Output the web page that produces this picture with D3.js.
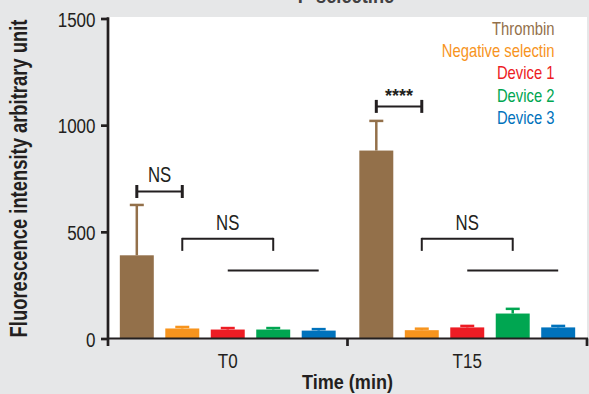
<!DOCTYPE html>
<html>
<head>
<meta charset="utf-8">
<script src="https://cdn.jsdelivr.net/npm/d3@7"></script>
<style>
  html, body { margin: 0; padding: 0; background: #e6e7e8; }
  svg { display: block; }
  text { font-family: "Liberation Sans", Arial, Helvetica, sans-serif; }
</style>
</head>
<body>
<svg id="chart" width="589" height="394"></svg>
<script>
// Time points and treatment series
const timePoints = ["T0", "T15"];
const seriesNames = ["Thrombin", "Negative selectin", "Device 1", "Device 2", "Device 3"];
const seriesColors = ["#93704a", "#f7941d", "#ed1c24", "#00a651", "#0072bc"];

// Mean fluorescence per series, one array per time point
const meanT0  = [390, 47, 42, 42, 37];
const meanT15 = [881, 39, 52, 117, 52];
// Upper end of the error bar (mean + SD)
const upperT0  = [626, 54, 49, 49, 44];
const upperT15 = [1020, 46, 59, 139, 59];

const yTicks = [0, 500, 1000, 1500];

// Significance annotations: time point, from/to series index, level (data units)
const sigGroup = ["T0", "T0", "T0", "T15", "T15", "T15"];
const sigFrom  = [0, 1, 2, 0, 1, 2];
const sigTo    = [1, 3, 4, 1, 3, 4];
const sigLevel = [689, 467, 319, 1088, 467, 319];
const sigKind  = ["capped", "bracket", "line", "capped", "bracket", "line"];
const sigLabel = ["NS", "NS", "", "****", "NS", ""];

const meansByTime = { T0: meanT0, T15: meanT15 };
const upperByTime = { T0: upperT0, T15: upperT15 };

const svg = d3.select("#chart");
const plot = { left: 108, right: 587, top: 17, bottom: 338.5 };
const ink = "#231f20";
const K = 0.81; // horizontal squeeze for the condensed type

// plotting area background
svg.append("rect")
  .attr("x", plot.left).attr("y", plot.top)
  .attr("width", plot.right - plot.left).attr("height", plot.bottom - plot.top)
  .attr("fill", "#ffffff");

const y = d3.scaleLinear().domain([0, 1500]).range([plot.bottom, 18.5]);
const x0 = d3.scaleBand().domain(timePoints).range([plot.left, plot.right]).padding(0);
const x1 = d3.scaleBand().domain(d3.range(seriesNames.length))
  .range([0, x0.bandwidth()]).paddingInner(0.253).paddingOuter(0.26);

// header text, running off the top edge
svg.append("text")
  .attr("transform", `translate(346,2.5) scale(0.83,1)`)
  .attr("text-anchor", "middle")
  .attr("font-size", 22).attr("font-weight", "bold")
  .attr("fill", "#414042")
  .text("P-selectine");

// bars
const groups = svg.append("g").selectAll("g")
  .data(timePoints).join("g")
  .attr("transform", d => `translate(${x0(d)},0)`);

groups.selectAll("rect")
  .data(t => meansByTime[t].map((v, i) => ({ t, i, v })))
  .join("rect")
  .attr("x", d => x1(d.i))
  .attr("width", x1.bandwidth())
  .attr("y", d => y(d.v))
  .attr("height", d => y(0) - y(d.v))
  .attr("fill", d => seriesColors[d.i]);

// error bars (upper only)
const err = groups.selectAll("g.err")
  .data(t => upperByTime[t].map((u, i) => ({ t, i, u, v: meansByTime[t][i] })))
  .join("g").attr("class", "err");
err.append("line")
  .attr("x1", d => x1(d.i) + x1.bandwidth() / 2)
  .attr("x2", d => x1(d.i) + x1.bandwidth() / 2)
  .attr("y1", d => y(d.v)).attr("y2", d => y(d.u))
  .attr("stroke", d => seriesColors[d.i]).attr("stroke-width", 2.5);
err.append("line")
  .attr("x1", d => x1(d.i) + x1.bandwidth() / 2 - 7)
  .attr("x2", d => x1(d.i) + x1.bandwidth() / 2 + 7)
  .attr("y1", d => y(d.u)).attr("y2", d => y(d.u))
  .attr("stroke", d => seriesColors[d.i]).attr("stroke-width", 2.5);

// y axis
const yAxis = svg.append("g")
  .attr("transform", `translate(${plot.left},0)`)
  .call(d3.axisLeft(y).tickValues(yTicks).tickSize(7).tickSizeOuter(0).tickFormat(d3.format("d")));
yAxis.select(".domain").remove();
yAxis.selectAll(".tick line").attr("stroke", ink).attr("stroke-width", 2.7);
yAxis.selectAll(".tick text")
  .attr("font-size", 21).attr("fill", ink)
  .attr("font-family", "'Liberation Sans', Arial, sans-serif")
  .attr("x", -12.5 / K).attr("dy", "0.36em")
  .attr("transform", `scale(${K},1)`);
svg.append("line")
  .attr("x1", plot.left).attr("x2", plot.left)
  .attr("y1", y(1500) - 1.3).attr("y2", 346)
  .attr("stroke", ink).attr("stroke-width", 2.7);

// x axis
svg.append("line")
  .attr("x1", plot.left).attr("x2", plot.right + 1)
  .attr("y1", plot.bottom).attr("y2", plot.bottom)
  .attr("stroke", ink).attr("stroke-width", 2);
const bounds = timePoints.map(t => x0(t) + x0.bandwidth());
svg.selectAll("line.xtick").data(bounds).join("line").attr("class", "xtick")
  .attr("x1", d => d).attr("x2", d => d)
  .attr("y1", plot.bottom).attr("y2", 346)
  .attr("stroke", ink).attr("stroke-width", 2.7);
svg.selectAll("text.xlab").data(timePoints).join("text").attr("class", "xlab")
  .attr("transform", d => `translate(${x0(d) + x0.bandwidth() / 2},368) scale(${K},1)`)
  .attr("text-anchor", "middle").attr("font-size", 21).attr("fill", ink)
  .text(d => d);

// axis titles
svg.append("text")
  .attr("transform", `translate(347.5,389) scale(0.86,1)`)
  .attr("text-anchor", "middle").attr("font-size", 21).attr("font-weight", "bold").attr("fill", ink)
  .text("Time (min)");
svg.append("text")
  .attr("transform", `translate(27,178.5) rotate(-90) scale(0.8,1)`)
  .attr("text-anchor", "middle").attr("font-size", 23).attr("font-weight", "bold").attr("fill", ink)
  .text("Fluorescence intensity arbitrary unit");

// legend
const legendBase = [35, 57, 79.3, 101.5, 123.7];
svg.selectAll("text.leg").data(seriesNames).join("text").attr("class", "leg")
  .attr("transform", (d, i) => `translate(554.5,${legendBase[i]}) scale(0.8,1)`)
  .attr("text-anchor", "end").attr("font-size", 18.5)
  .attr("fill", (d, i) => seriesColors[i])
  .text(d => d);

// significance marks
const sig = svg.append("g");
sigGroup.forEach((g, j) => {
  const xa = x0(g) + x1(sigFrom[j]) + x1.bandwidth() / 2;
  const xb = x0(g) + x1(sigTo[j]) + x1.bandwidth() / 2;
  const yy = y(sigLevel[j]);
  const kind = sigKind[j];
  sig.append("line")
    .attr("x1", xa).attr("x2", xb).attr("y1", yy).attr("y2", yy)
    .attr("stroke", ink).attr("stroke-width", 2);
  if (kind === "capped") {
    [xa, xb].forEach(xx => sig.append("line")
      .attr("x1", xx).attr("x2", xx).attr("y1", yy - 6.5).attr("y2", yy + 6.5)
      .attr("stroke", ink).attr("stroke-width", 3));
  } else if (kind === "bracket") {
    [xa, xb].forEach(xx => sig.append("line")
      .attr("x1", xx).attr("x2", xx).attr("y1", yy - 1).attr("y2", yy + 12)
      .attr("stroke", ink).attr("stroke-width", 2));
  }
  if (sigLabel[j]) {
    const stars = sigLabel[j].startsWith("*");
    sig.append("text")
      .attr("transform", stars
        ? `translate(${(xa + xb) / 2},${yy - 4.5})`
        : `translate(${(xa + xb) / 2},${yy - (kind === "capped" ? 10 : 8.5)}) scale(0.78,1)`)
      .attr("text-anchor", "middle")
      .attr("font-size", stars ? 18 : 21.5)
      .attr("font-weight", stars ? "bold" : "normal")
      .attr("fill", ink)
      .text(sigLabel[j]);
  }
});
</script>
</body>
</html>
